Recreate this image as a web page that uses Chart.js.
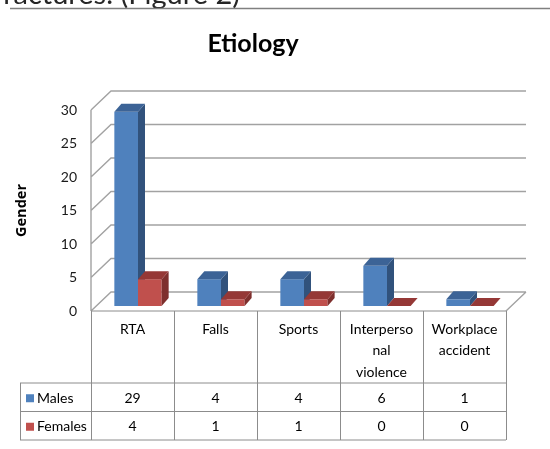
<!DOCTYPE html>
<html>
<head>
<meta charset="utf-8">
<script src="https://cdn.jsdelivr.net/npm/chart.js@4.4.1/dist/chart.umd.min.js"></script>
<style>
  html, body { margin: 0; padding: 0; background: #fff; }
  canvas { display: block; }
</style>
</head>
<body>
<canvas id="chart" width="550" height="449"></canvas>
<script>
// Etiology of injuries by gender
const categories = ['RTA', 'Falls', 'Sports', ['Interperso', 'nal', 'violence'], ['Workplace', 'accident']];
const males = [29, 4, 4, 6, 1];
const females = [4, 1, 1, 0, 0];
const seriesNames = ['Males', 'Females'];
const yTicks = [0, 5, 10, 15, 20, 25, 30];

// colours for the three visible faces of each column
const faces = [
  { front: '#4f81bd', side: '#31527c', top: '#3c6396' },
  { front: '#c0504d', side: '#7e2f2d', top: '#953836' }
];

const WALL = { dx: 20, dy: -19 };     // depth of the back wall
const SHIFT = { dx: 5.5, dy: -5 };    // columns sit a little behind the front edge
const COL = { dx: 7, dy: -8 };        // depth of one column
const TABLE = { left: 20, header: 72, row: 28.5, lineGap: 21.5 };
const FONT = 'Lato, "Open Sans", sans-serif';

function poly(ctx, pts, fill) {
  ctx.beginPath();
  ctx.moveTo(pts[0][0], pts[0][1]);
  for (let i = 1; i < pts.length; i++) ctx.lineTo(pts[i][0], pts[i][1]);
  ctx.closePath();
  ctx.fillStyle = fill;
  ctx.fill();
}

// running text line and rule above the chart
const headerLine = {
  id: 'headerLine',
  beforeDraw(chart) {
    const ctx = chart.ctx;
    ctx.save();
    ctx.font = '29px ' + FONT;
    ctx.fillStyle = '#262626';
    ctx.textAlign = 'right';
    ctx.textBaseline = 'alphabetic';
    ctx.fillText('fractures. (Figure 2)', 240, 3.5);
    ctx.strokeStyle = '#808080';
    ctx.lineWidth = 1.5;
    ctx.beginPath();
    ctx.moveTo(10, 8.5);
    ctx.lineTo(550, 8.5);
    ctx.stroke();
    ctx.restore();
  }
};

// back wall, side wall and floor
const walls = {
  id: 'walls',
  beforeDatasetsDraw(chart) {
    const { ctx, chartArea: a, scales: { y } } = chart;
    ctx.save();
    ctx.strokeStyle = '#a2a2a2';
    ctx.lineWidth = 1.4;
    ctx.beginPath();
    yTicks.forEach(v => {
      const py = y.getPixelForValue(v);
      ctx.moveTo(a.left, py);
      ctx.lineTo(a.left + WALL.dx, py + WALL.dy);
      ctx.lineTo(a.right + WALL.dx, py + WALL.dy);
    });
    ctx.moveTo(a.left, a.top);
    ctx.lineTo(a.left, a.bottom);
    ctx.moveTo(a.right, a.bottom);
    ctx.lineTo(a.right + WALL.dx, a.bottom + WALL.dy);
    ctx.stroke();
    ctx.restore();
  }
};

// columns with their top and side faces, drawn category by category
const columns3d = {
  id: 'columns3d',
  beforeDatasetDraw() { return false; },
  afterDatasetsDraw(chart) {
    const ctx = chart.ctx;
    const metas = chart.data.datasets.map((d, i) => chart.getDatasetMeta(i));
    ctx.save();
    ctx.translate(SHIFT.dx, SHIFT.dy);
    categories.forEach((c, i) => {
      metas.forEach((meta, d) => {
        const el = meta.data[i];
        el.draw(ctx, chart.chartArea);
        const { x, y, base, width } = el.getProps(['x', 'y', 'base', 'width'], true);
        const l = x - width / 2, r = x + width / 2;
        poly(ctx, [[r, y], [r + COL.dx, y + COL.dy], [r + COL.dx, base + COL.dy], [r, base]], faces[d].side);
        poly(ctx, [[l, y], [l + COL.dx, y + COL.dy], [r + COL.dx, y + COL.dy], [r, y]], faces[d].top);
      });
    });
    ctx.restore();
  }
};

// data table under the floor
const dataTable = {
  id: 'dataTable',
  afterDraw(chart) {
    const { ctx, chartArea: a, scales: { x } } = chart;
    const n = categories.length;
    const cw = (a.right - a.left) / n;
    const top = a.bottom;
    const r1 = top + TABLE.header;
    const r2 = r1 + TABLE.row;
    const r3 = r2 + TABLE.row;
    ctx.save();
    ctx.strokeStyle = '#8c8c8c';
    ctx.lineWidth = 1;
    ctx.beginPath();
    ctx.moveTo(a.left, top); ctx.lineTo(a.right, top);
    [r1, r2, r3].forEach(yy => { ctx.moveTo(TABLE.left, yy); ctx.lineTo(a.right, yy); });
    for (let i = 0; i <= n; i++) {
      const xx = Math.round(a.left + i * cw) + 0.5;
      ctx.moveTo(xx, top); ctx.lineTo(xx, r3);
    }
    ctx.moveTo(TABLE.left + 0.5, r1); ctx.lineTo(TABLE.left + 0.5, r3);
    ctx.stroke();

    ctx.fillStyle = '#000';
    ctx.font = '14px ' + FONT;
    ctx.textAlign = 'center';
    ctx.textBaseline = 'middle';
    categories.forEach((c, i) => {
      const cx = x.getPixelForValue(i);
      const lines = Array.isArray(c) ? c : [c];
      lines.forEach((t, k) => ctx.fillText(t, cx, top + 18 + k * TABLE.lineGap));
    });
    const rows = [males, females];
    rows.forEach((vals, d) => {
      const cy = (d === 0 ? r1 : r2) + TABLE.row / 2 + 1;
      ctx.textAlign = 'center';
      ctx.fillStyle = '#000';
      vals.forEach((v, i) => ctx.fillText(String(v), x.getPixelForValue(i), cy));
      ctx.fillStyle = faces[d].front;
      ctx.fillRect(26, cy - 4, 8, 8);
      ctx.fillStyle = '#000';
      ctx.textAlign = 'left';
      ctx.fillText(seriesNames[d], 37, cy);
    });
    ctx.restore();
  }
};

new Chart(document.getElementById('chart'), {
  type: 'bar',
  data: {
    labels: categories,
    datasets: [
      { label: seriesNames[0], data: males, backgroundColor: faces[0].front, borderWidth: 0 },
      { label: seriesNames[1], data: females, backgroundColor: faces[1].front, borderWidth: 0 }
    ]
  },
  plugins: [headerLine, walls, columns3d, dataTable],
  options: {
    responsive: false,
    animation: false,
    devicePixelRatio: 1,
    categoryPercentage: 0.57,
    barPercentage: 1,
    layout: { padding: { left: 0, right: 44, top: 0, bottom: 138 } },
    plugins: {
      legend: { display: false },
      tooltip: { enabled: false },
      title: {
        display: true,
        text: 'Etiology',
        color: '#000',
        font: { family: FONT, size: 25, weight: 'bold' },
        padding: { top: 29, bottom: 51 }
      }
    },
    scales: {
      x: { display: false },
      y: {
        min: yTicks[0],
        max: yTicks[yTicks.length - 1],
        afterFit(scale) { scale.width = 91; },
        ticks: {
          stepSize: yTicks[1] - yTicks[0],
          padding: 14,
          color: '#1a1a1a',
          font: { family: FONT, size: 14 }
        },
        grid: { display: false, drawTicks: false },
        border: { display: false },
        title: {
          display: true,
          text: 'Gender',
          color: '#000',
          font: { family: '"Open Sans", sans-serif', size: 14.5, weight: 'bold' },
          padding: { top: 13, bottom: 0 }
        }
      }
    }
  }
});
</script>
</body>
</html>
